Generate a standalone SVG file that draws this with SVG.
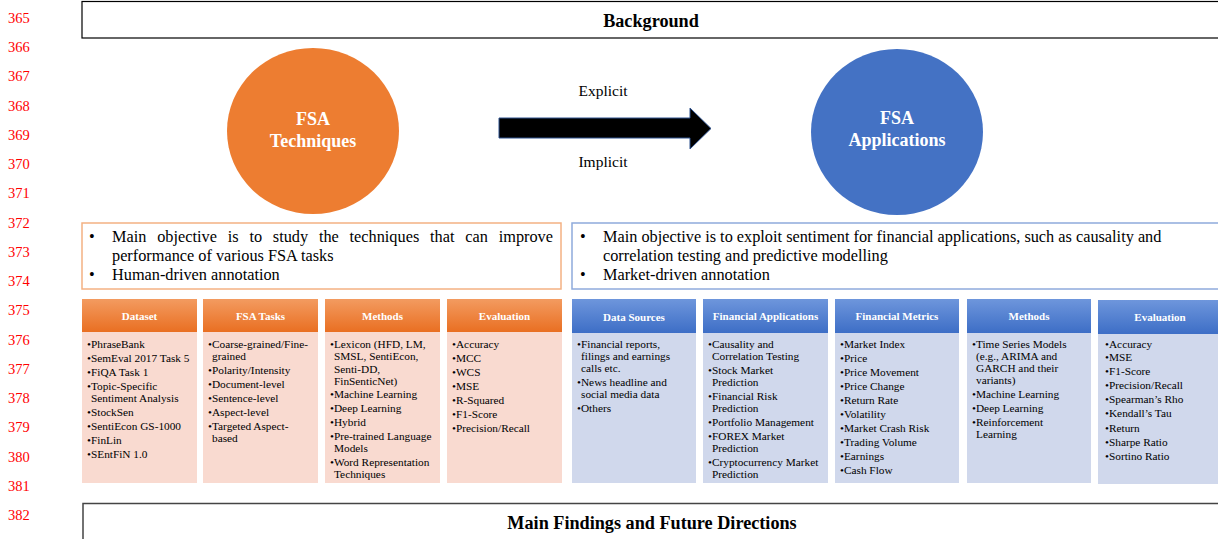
<svg xmlns="http://www.w3.org/2000/svg" width="1218" height="539" viewBox="0 0 1218 539">
<defs>
<linearGradient id="gO" x1="0" y1="0" x2="0" y2="1"><stop offset="0" stop-color="#F39B60"/><stop offset="1" stop-color="#E96F22"/></linearGradient>
<linearGradient id="gB" x1="0" y1="0" x2="0" y2="1"><stop offset="0" stop-color="#6E96DC"/><stop offset="1" stop-color="#3D6EC6"/></linearGradient>
</defs>
<style>
text{font-family:"Liberation Serif","Times New Roman",serif;fill:#000}
.ln{font-size:14.5px;fill:#FF0000}
.ttl{font-size:18.2px;font-weight:bold;text-anchor:middle}
.ct{font-size:18px;font-weight:bold;fill:#FFFFFF;text-anchor:middle}
.lab{font-size:15.5px;text-anchor:middle}
.obj{font-size:16.3px}
.hd{font-size:11px;font-weight:bold;fill:#FFFFFF;text-anchor:middle}
.it{font-size:11.3px}
.bodyO{fill:#F9DAD0}
.bodyB{fill:#D0D8EC}
.hO{fill:url(#gO)}
.hB{fill:url(#gB)}
</style>
<rect width="1218" height="539" fill="#FFFFFF"/>
<g id="line-numbers">
<text class="ln" x="8" y="23">365</text>
<text class="ln" x="8" y="52">366</text>
<text class="ln" x="8" y="81">367</text>
<text class="ln" x="8" y="111">368</text>
<text class="ln" x="8" y="140">369</text>
<text class="ln" x="8" y="169">370</text>
<text class="ln" x="8" y="198">371</text>
<text class="ln" x="8" y="228">372</text>
<text class="ln" x="8" y="257">373</text>
<text class="ln" x="8" y="286">374</text>
<text class="ln" x="8" y="315">375</text>
<text class="ln" x="8" y="345">376</text>
<text class="ln" x="8" y="374">377</text>
<text class="ln" x="8" y="403">378</text>
<text class="ln" x="8" y="432">379</text>
<text class="ln" x="8" y="462">380</text>
<text class="ln" x="8" y="491">381</text>
<text class="ln" x="8" y="520">382</text>
</g>
<g id="background">
<rect x="82" y="1.5" width="1140" height="36.5" fill="#FFFFFF" stroke="#000000" stroke-width="1.2"/>
<text class="ttl" x="651" y="27">Background</text>
</g>
<g id="fsa-techniques">
<ellipse cx="313" cy="131" rx="86" ry="83" fill="#ED7D31"/>
<text class="ct" x="313" y="125">FSA</text>
<text class="ct" x="313" y="147">Techniques</text>
</g>
<g id="fsa-applications">
<ellipse cx="897" cy="132" rx="86" ry="83" fill="#4472C4"/>
<text class="ct" x="897" y="124">FSA</text>
<text class="ct" x="897" y="146">Applications</text>
</g>
<g id="connectors">
<polygon points="499,118 690,118 690,108 711,128.5 690,149 690,138 499,138" fill="#000000" stroke="#2F528F" stroke-width="1"/>
<text class="lab" x="603" y="96">Explicit</text>
<text class="lab" x="603" y="167">Implicit</text>
</g>
<g id="techniques-objective">
<rect x="82" y="223" width="479" height="66" fill="#FFFFFF" stroke="#F4B183" stroke-width="1.5"/>
<text class="obj" x="89" y="242">•</text>
<text class="obj" y="242"><tspan x="112">Main</tspan><tspan x="157.2">objective</tspan><tspan x="227.7">is</tspan><tspan x="249.4">to</tspan><tspan x="272.8">study</tspan><tspan x="318.9">the</tspan><tspan x="349.6">techniques</tspan><tspan x="430.1">that</tspan><tspan x="465.3">can</tspan><tspan x="498.7">improve</tspan></text>
<text class="obj" x="112" y="261">performance of various FSA tasks</text>
<text class="obj" x="89" y="280">•</text>
<text class="obj" x="112" y="280">Human-driven annotation</text>
</g>
<g id="applications-objective">
<rect x="572" y="223" width="660" height="66" fill="#FFFFFF" stroke="#8FAADC" stroke-width="1.5"/>
<text class="obj" x="580" y="242">•</text>
<text class="obj" x="603" y="242">Main objective is to exploit sentiment for financial applications, such as causality and</text>
<text class="obj" x="603" y="261">correlation testing and predictive modelling</text>
<text class="obj" x="580" y="280">•</text>
<text class="obj" x="603" y="280">Market-driven annotation</text>
</g>
<g id="dataset">
<rect class="bodyO" x="82" y="332" width="115" height="151"/>
<rect class="hO" x="82" y="299" width="115" height="33"/>
<text class="hd" x="139.5" y="320">Dataset</text>
<text class="it" x="87" y="348">•PhraseBank</text>
<text class="it" x="87" y="362">•SemEval 2017 Task 5</text>
<text class="it" x="87" y="376">•FiQA Task 1</text>
<text class="it" x="87" y="390">•Topic-Specific</text>
<text class="it" x="91" y="402">Sentiment Analysis</text>
<text class="it" x="87" y="416">•StockSen</text>
<text class="it" x="87" y="430">•SentiEcon GS-1000</text>
<text class="it" x="87" y="444">•FinLin</text>
<text class="it" x="87" y="458">•SEntFiN 1.0</text>
</g>
<g id="fsa-tasks">
<rect class="bodyO" x="203" y="332" width="115" height="151"/>
<rect class="hO" x="203" y="299" width="115" height="33"/>
<text class="hd" x="260.5" y="320">FSA Tasks</text>
<text class="it" x="208" y="348">•Coarse-grained/Fine-</text>
<text class="it" x="212" y="360">grained</text>
<text class="it" x="208" y="374">•Polarity/Intensity</text>
<text class="it" x="208" y="388">•Document-level</text>
<text class="it" x="208" y="402">•Sentence-level</text>
<text class="it" x="208" y="416">•Aspect-level</text>
<text class="it" x="208" y="430">•Targeted Aspect-</text>
<text class="it" x="212" y="442">based</text>
</g>
<g id="techniques-methods">
<rect class="bodyO" x="325" y="332" width="115" height="151"/>
<rect class="hO" x="325" y="299" width="115" height="33"/>
<text class="hd" x="382.5" y="320">Methods</text>
<text class="it" x="330" y="348">•Lexicon (HFD, LM,</text>
<text class="it" x="334" y="360">SMSL, SentiEcon,</text>
<text class="it" x="334" y="373">Senti-DD,</text>
<text class="it" x="334" y="385">FinSenticNet)</text>
<text class="it" x="330" y="398">•Machine Learning</text>
<text class="it" x="330" y="412">•Deep Learning</text>
<text class="it" x="330" y="426">•Hybrid</text>
<text class="it" x="330" y="440">•Pre-trained Language</text>
<text class="it" x="334" y="452">Models</text>
<text class="it" x="330" y="466">•Word Representation</text>
<text class="it" x="334" y="478">Techniques</text>
</g>
<g id="techniques-evaluation">
<rect class="bodyO" x="447" y="332" width="115" height="151"/>
<rect class="hO" x="447" y="299" width="115" height="33"/>
<text class="hd" x="504.5" y="320">Evaluation</text>
<text class="it" x="452" y="348">•Accuracy</text>
<text class="it" x="452" y="362">•MCC</text>
<text class="it" x="452" y="376">•WCS</text>
<text class="it" x="452" y="390">•MSE</text>
<text class="it" x="452" y="404">•R-Squared</text>
<text class="it" x="452" y="418">•F1-Score</text>
<text class="it" x="452" y="432">•Precision/Recall</text>
</g>
<g id="data-sources">
<rect class="bodyB" x="572" y="333" width="124" height="150"/>
<rect class="hB" x="572" y="299" width="124" height="34"/>
<text class="hd" x="634" y="321">Data Sources</text>
<text class="it" x="577" y="348">•Financial reports,</text>
<text class="it" x="581" y="360">filings and earnings</text>
<text class="it" x="581" y="372">calls etc.</text>
<text class="it" x="577" y="386">•News headline and</text>
<text class="it" x="581" y="398">social media data</text>
<text class="it" x="577" y="412">•Others</text>
</g>
<g id="financial-applications">
<rect class="bodyB" x="703" y="333" width="125" height="150"/>
<rect class="hB" x="703" y="299" width="125" height="34"/>
<text class="hd" x="765.5" y="320">Financial Applications</text>
<text class="it" x="708" y="348">•Causality and</text>
<text class="it" x="712" y="360">Correlation Testing</text>
<text class="it" x="708" y="374">•Stock Market</text>
<text class="it" x="712" y="386">Prediction</text>
<text class="it" x="708" y="400">•Financial Risk</text>
<text class="it" x="712" y="412">Prediction</text>
<text class="it" x="708" y="426">•Portfolio Management</text>
<text class="it" x="708" y="440">•FOREX Market</text>
<text class="it" x="712" y="452">Prediction</text>
<text class="it" x="708" y="466">•Cryptocurrency Market</text>
<text class="it" x="712" y="478">Prediction</text>
</g>
<g id="financial-metrics">
<rect class="bodyB" x="835" y="333" width="124" height="150"/>
<rect class="hB" x="835" y="299" width="124" height="34"/>
<text class="hd" x="897" y="320">Financial Metrics</text>
<text class="it" x="840" y="348">•Market Index</text>
<text class="it" x="840" y="362">•Price</text>
<text class="it" x="840" y="376">•Price Movement</text>
<text class="it" x="840" y="390">•Price Change</text>
<text class="it" x="840" y="404">•Return Rate</text>
<text class="it" x="840" y="418">•Volatility</text>
<text class="it" x="840" y="432">•Market Crash Risk</text>
<text class="it" x="840" y="446">•Trading Volume</text>
<text class="it" x="840" y="460">•Earnings</text>
<text class="it" x="840" y="474">•Cash Flow</text>
</g>
<g id="applications-methods">
<rect class="bodyB" x="967" y="333" width="124" height="150"/>
<rect class="hB" x="967" y="299" width="124" height="34"/>
<text class="hd" x="1029" y="320">Methods</text>
<text class="it" x="972" y="348">•Time Series Models</text>
<text class="it" x="976" y="360">(e.g., ARIMA and</text>
<text class="it" x="976" y="372">GARCH and their</text>
<text class="it" x="976" y="384">variants)</text>
<text class="it" x="972" y="398">•Machine Learning</text>
<text class="it" x="972" y="412">•Deep Learning</text>
<text class="it" x="972" y="426">•Reinforcement</text>
<text class="it" x="976" y="438">Learning</text>
</g>
<g id="applications-evaluation">
<rect class="bodyB" x="1098" y="334" width="124" height="150"/>
<rect class="hB" x="1098" y="300" width="124" height="34"/>
<text class="hd" x="1160" y="321">Evaluation</text>
<text class="it" x="1105" y="348">•Accuracy</text>
<text class="it" x="1105" y="361">•MSE</text>
<text class="it" x="1105" y="375">•F1-Score</text>
<text class="it" x="1105" y="389">•Precision/Recall</text>
<text class="it" x="1105" y="403">•Spearman’s Rho</text>
<text class="it" x="1105" y="417">•Kendall’s Tau</text>
<text class="it" x="1105" y="432">•Return</text>
<text class="it" x="1105" y="446">•Sharpe Ratio</text>
<text class="it" x="1105" y="460">•Sortino Ratio</text>
</g>
<g id="main-findings">
<rect x="83" y="503.5" width="1140" height="40" fill="#FFFFFF" stroke="#444444" stroke-width="1.5"/>
<text class="ttl" x="652" y="529">Main Findings and Future Directions</text>
</g>
</svg>
